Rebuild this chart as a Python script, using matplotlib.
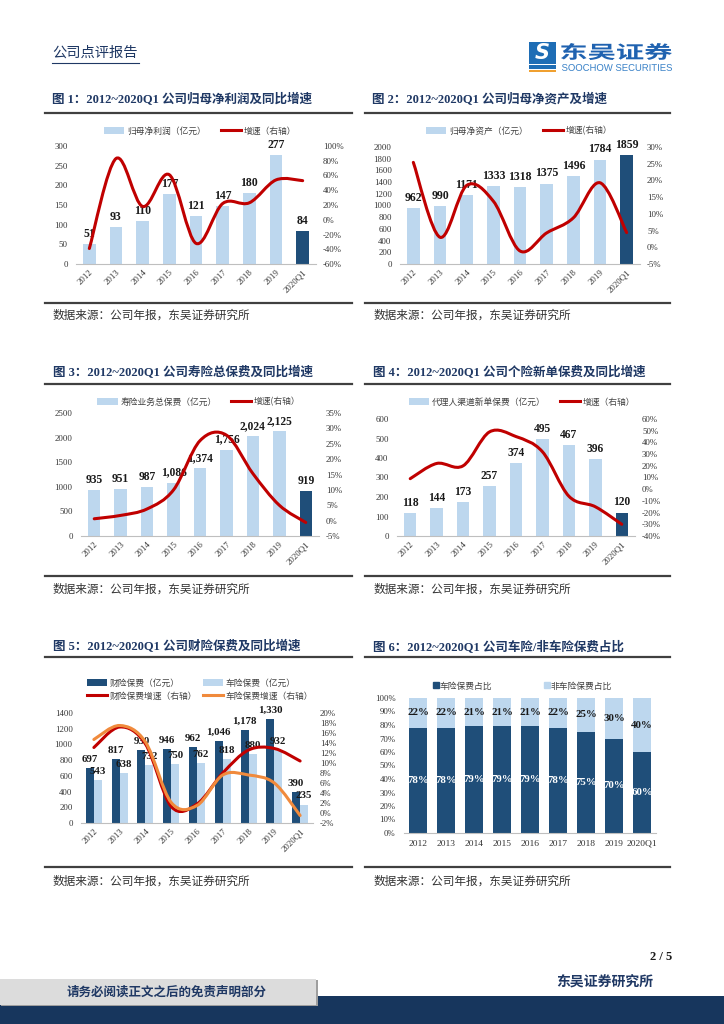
import numpy as np
import matplotlib
matplotlib.use("Agg")
import matplotlib.pyplot as plt
from matplotlib.path import Path
from matplotlib.patches import PathPatch, Rectangle, Patch
from matplotlib.lines import Line2D
from matplotlib.textpath import TextPath
from matplotlib.font_manager import FontProperties
from matplotlib.transforms import Affine2D
from matplotlib.ticker import FuncFormatter

plt.rcParams['font.family'] = ['Liberation Serif', 'Noto Sans CJK SC']
plt.rcParams['axes.unicode_minus'] = False

# ---------------- datos ----------------
years = ['2012', '2013', '2014', '2015', '2016', '2017', '2018', '2019', '2020Q1']

# 图1 归母净利润
profit = [51, 93, 110, 177, 121, 147, 180, 277, 84]
profit_g = [-39, 83, 18, 61, -32, 22, 23, 54, 53]
# 图2 归母净资产
equity = [962, 990, 1171, 1333, 1318, 1375, 1496, 1784, 1859]
equity_g = [25.4, 3.0, 18.5, 13.8, -1.1, 4.3, 8.8, 19.3, 4.4]
# 图3 寿险总保费
life = [935, 951, 987, 1086, 1374, 1756, 2024, 2125, 919]
life_g = [0.6, 1.7, 3.8, 10.0, 26.0, 27.8, 15.3, 5.0, -0.6]
# 图4 个险新单保费
agent = [118, 144, 173, 257, 374, 495, 467, 396, 120]
agent_g = [9, 22, 20, 49, 45, 32, -6, -15, -30]
# 图5 财险/车险保费
pc = [697, 817, 930, 946, 962, 1046, 1178, 1330, 390]
auto = [543, 638, 732, 750, 762, 818, 880, 932, 235]
pc_g = [13.1, 17.2, 13.8, 1.3, 1.8, 8.0, 12.6, 12.9, 10.4]
auto_g = [14.7, 17.5, 14.2, 2.1, 1.5, 7.6, 7.6, 6.0, -0.5]
# 图6 车险/非车险占比
auto_pct = [78, 78, 79, 79, 79, 78, 75, 70, 60]
nonauto_pct = [22, 22, 21, 21, 21, 22, 25, 30, 40]

LIGHT = '#BDD7EE'
DARK = '#1F4E79'
RED = '#C00000'
ORANGE = '#F08A3C'
NAVY = '#1F3864'
CJK = ['Noto Sans CJK SC', 'DejaVu Sans']
SERIF = ['Liberation Serif', 'Noto Sans CJK SC']

W, H = 724, 1024
fig = plt.figure(figsize=(W / 100, H / 100), dpi=100)


def fx(px):
    return px / W


def fy(py):
    return 1 - py / H


def rect(x0, x1, y0, y1):
    return [x0 / W, 1 - y1 / H, (x1 - x0) / W, (y1 - y0) / H]


# curva suavizada tipo Excel (bezier)
def smooth_path(x, y):
    pts = np.column_stack([x, y]).astype(float)
    n = len(pts)
    verts = [pts[0]]
    codes = [Path.MOVETO]
    for i in range(n - 1):
        p0 = pts[max(i - 1, 0)]
        p1 = pts[i]
        p2 = pts[i + 1]
        p3 = pts[min(i + 2, n - 1)]
        verts += [p1 + (p2 - p0) / 6, p2 - (p3 - p1) / 6, p2]
        codes += [Path.CURVE4] * 3
    return Path(verts, codes)


def add_curve(ax, y, color):
    x = np.arange(len(y))
    ax.add_patch(PathPatch(smooth_path(x, y), fill=False, edgecolor=color,
                           lw=2.2, capstyle='round', joinstyle='round'))


def pct_fmt(v, pos):
    return f"{v:.0f}%"


def style_axes(ax, ax2, ylim, ystep, rlim, rstep, rot=45):
    ax.set_xlim(-0.5, len(years) - 0.5)
    ax.set_ylim(*ylim)
    ax.set_yticks(np.arange(ylim[0], ylim[1] + ystep / 2, ystep))
    ax.set_xticks(range(len(years)))
    if rot:
        ax.set_xticklabels(years, rotation=rot, ha='right', rotation_mode='anchor')
    else:
        ax.set_xticklabels(years)
    for s in ['top', 'right', 'left']:
        ax.spines[s].set_visible(False)
    ax.spines['bottom'].set_color('#BFBFBF')
    ax.spines['bottom'].set_linewidth(0.8)
    ax.tick_params(length=0, labelsize=6.3, colors='#333333', pad=6)
    ax.tick_params(axis='x', pad=3)
    if ax2 is not None:
        ax2.set_ylim(*rlim)
        ax2.set_yticks(np.arange(rlim[0], rlim[1] + rstep / 2, rstep))
        ax2.yaxis.set_major_formatter(FuncFormatter(pct_fmt))
        for s in ax2.spines.values():
            s.set_visible(False)
        ax2.tick_params(length=0, labelsize=6.3, colors='#333333', pad=5)


def legend(handles, labels, cx, cy, ncol=2, **kw):
    opts = dict(handlelength=2.3, handleheight=0.8, handletextpad=0.3,
                columnspacing=1.7, borderpad=0)
    opts.update(kw)
    fig.legend(handles, labels, loc='center', bbox_to_anchor=(fx(cx), fy(cy)),
               bbox_transform=fig.transFigure, ncol=ncol, frameon=False,
               prop=FontProperties(family=CJK, size=6.3), labelcolor='#404040', **opts)


def bar_line_chart(r, vals, growth, ylim, ystep, rlim, rstep, comma=False, lfs=8.0):
    ax = fig.add_axes(rect(*r))
    x = np.arange(len(years))
    colors = [LIGHT] * (len(years) - 1) + [DARK]
    ax.bar(x, vals, width=0.47, color=colors)
    for i, v in enumerate(vals):
        txt = f"{v:,}" if comma else f"{v}"
        ax.annotate(txt, (i, v), xytext=(0, 3), textcoords='offset points',
                    ha='center', va='bottom', fontsize=lfs, fontweight='bold',
                    color='#1a1a1a', family=SERIF)
    ax2 = ax.twinx()
    add_curve(ax2, growth, RED)
    style_axes(ax, ax2, ylim, ystep, rlim, rstep)
    return ax, ax2


def title(x, y, s):
    fig.text(fx(x), fy(y), s, ha='left', va='center', fontsize=9, fontweight='bold',
             color=NAVY, family=SERIF)


def hline(x0, x1, y, lw=1.6, color='#404040'):
    fig.add_artist(Line2D([fx(x0), fx(x1)], [fy(y), fy(y)], color=color, lw=lw))


def source(x, y):
    fig.text(fx(x), fy(y), '数据来源：公司年报，东吴证券研究所', ha='left', va='center',
             fontsize=8.4, color='#333333', family=CJK)


def stretched(s, x0, y0, w, h, color, weight='bold', family=CJK):
    tp = TextPath((0, 0), s, size=20, prop=FontProperties(family=family, weight=weight))
    bb = tp.get_extents()
    tr = (Affine2D().translate(-bb.x0, -bb.y0)
          .scale(w / bb.width, h / bb.height)
          .translate(x0, H - y0 - h)
          .scale(1 / W, 1 / H))
    fig.add_artist(PathPatch(tr.transform_path(tp), facecolor=color, lw=0,
                             transform=fig.transFigure))


# ---------------- cabecera ----------------
fig.text(fx(52), fy(53), '公司点评报告', ha='left', va='center', fontsize=10.3,
         color=NAVY, family=CJK)
hline(52, 139, 63, lw=0.8, color=NAVY)
fig.add_artist(Rectangle((fx(529), fy(64)), fx(27), 22 / H, facecolor='#1E6DB5',
                         transform=fig.transFigure))
fig.text(fx(542.5), fy(53), 'S', ha='center', va='center', fontsize=15, color='white',
         fontweight='bold', style='italic', family=['DejaVu Sans'])
fig.add_artist(Rectangle((fx(529), fy(69)), fx(27), 4 / H, facecolor='#1E6DB5',
                         transform=fig.transFigure))
fig.add_artist(Rectangle((fx(529), fy(72)), fx(27), 2 / H, facecolor='#F0A030',
                         transform=fig.transFigure))
stretched('东吴证券', 561, 43, 111, 17, '#1F62B0')
stretched('SOOCHOW SECURITIES', 562, 64, 110, 7, '#3A82C8', weight='normal',
          family=['Liberation Sans'])

# ---------------- 图1 ----------------
title(52, 100, '图 1：2012~2020Q1 公司归母净利润及同比增速')
hline(45, 352, 112.5)
bar_line_chart((76, 316, 146, 264), profit, profit_g, (0, 300), 50, (-60, 100), 20,
               lfs=8.5)
legend([Patch(facecolor=LIGHT), Line2D([], [], color=RED, lw=2.2)],
       ['归母净利润（亿元）', '增速（右轴）'], 200, 131)
hline(45, 352, 302.5)
source(53, 315)

# ---------------- 图2 ----------------
title(372, 100, '图 2：2012~2020Q1 公司归母净资产及增速')
hline(365, 670, 112.5)
bar_line_chart((400, 640, 147, 264), equity, equity_g, (0, 2000), 200, (-5, 30), 5,
               lfs=8.5)
legend([Patch(facecolor=LIGHT), Line2D([], [], color=RED, lw=2.2)],
       ['归母净资产（亿元）', '增速(右轴）'], 519, 131)
hline(365, 670, 302.5)
source(373, 315)

# ---------------- 图3 ----------------
title(53, 373, '图 3：2012~2020Q1 公司寿险总保费及同比增速')
hline(45, 352, 384)
bar_line_chart((81, 319, 413, 536), life, life_g, (0, 2500), 500, (-5, 35), 5,
               comma=True, lfs=8.3)
legend([Patch(facecolor=LIGHT), Line2D([], [], color=RED, lw=2.2)],
       ['寿险业务总保费（亿元）', '增速(右轴）'], 199, 402)
hline(45, 352, 576)
source(53, 589)

# ---------------- 图4 ----------------
title(373, 373, '图 4：2012~2020Q1 公司个险新单保费及同比增速')
hline(365, 670, 384)
bar_line_chart((397, 635, 419, 536), agent, agent_g, (0, 600), 100, (-40, 60), 10,
               lfs=8.3)
legend([Patch(facecolor=LIGHT), Line2D([], [], color=RED, lw=2.2)],
       ['代理人渠道新单保费（亿元）', '增速（右轴）'], 522, 402)
hline(365, 670, 576)
source(373, 589)

# ---------------- 图5 ----------------
title(53, 647, '图 5：2012~2020Q1 公司财险保费及同比增速')
hline(45, 352, 657)
ax5 = fig.add_axes(rect(81, 313, 713, 823))
x = np.arange(len(years))
bw = 0.31
ax5.bar(x - bw / 2, pc, width=bw, color=DARK)
ax5.bar(x + bw / 2, auto, width=bw, color=LIGHT)
for i in range(len(years)):
    ax5.annotate(f"{pc[i]:,}", (x[i] - bw / 2, pc[i]), xytext=(0, 3),
                 textcoords='offset points', ha='center', va='bottom', fontsize=7.8,
                 fontweight='bold', color='#1a1a1a')
    ax5.annotate(f"{auto[i]:,}", (x[i] + bw / 2, auto[i]), xytext=(0, 3),
                 textcoords='offset points', ha='center', va='bottom', fontsize=7.8,
                 fontweight='bold', color='#1a1a1a')
ax5b = ax5.twinx()
add_curve(ax5b, pc_g, RED)
add_curve(ax5b, auto_g, ORANGE)
style_axes(ax5, ax5b, (0, 1400), 200, (-2, 20), 2)
legend([Patch(facecolor=DARK), Line2D([], [], color=RED, lw=2.2),
        Patch(facecolor=LIGHT), Line2D([], [], color=ORANGE, lw=2.2)],
       ['财险保费（亿元）', '财险保费增速（右轴）', '车险保费（亿元）', '车险保费增速（右轴）'],
       200, 689.5, labelspacing=0.45, columnspacing=0.6)
hline(45, 352, 867)
source(53, 881)

# ---------------- 图6 ----------------
title(373, 647, '图 6：2012~2020Q1 公司车险/非车险保费占比')
hline(365, 670, 657)
ax6 = fig.add_axes(rect(404, 656, 698, 833))
ax6.bar(x, auto_pct, width=0.62, color=DARK)
ax6.bar(x, nonauto_pct, bottom=auto_pct, width=0.62, color=LIGHT)
for i in range(len(years)):
    ax6.text(x[i], auto_pct[i] / 2, f"{auto_pct[i]}%", ha='center', va='center',
             fontsize=7.8, fontweight='bold', color='white')
    ax6.text(x[i], auto_pct[i] + nonauto_pct[i] / 2, f"{nonauto_pct[i]}%", ha='center',
             va='center', fontsize=7.8, fontweight='bold', color='#1a1a1a')
style_axes(ax6, None, (0, 100), 10, None, None, rot=0)
ax6.yaxis.set_major_formatter(FuncFormatter(pct_fmt))
ax6.tick_params(axis='x', labelsize=6.8, pad=5)
legend([Line2D([], [], ls='none', marker='s', ms=4, color=DARK),
        Line2D([], [], ls='none', marker='s', ms=4, color=LIGHT)],
       ['车险保费占比', '非车险保费占比'], 523, 686, handlelength=0.5,
       handletextpad=0.2, columnspacing=6.0)
hline(365, 670, 867)
source(373, 881)

# ---------------- pie de pagina ----------------
fig.text(fx(672), fy(957), '2 / 5', ha='right', va='center', fontsize=9,
         fontweight='bold', color='#1a1a1a')
fig.text(fx(653), fy(983), '东吴证券研究所', ha='right', va='center', fontsize=10,
         fontweight='bold', color=NAVY, family=CJK)
fig.add_artist(Rectangle((fx(316), fy(1024)), fx(408), 28 / H, facecolor='#17365D',
                         lw=0, transform=fig.transFigure))
fig.add_artist(Rectangle((0, fy(1024)), 1, 19 / H, facecolor='#17365D', lw=0,
                         transform=fig.transFigure))
fig.add_artist(Rectangle((fx(1), fy(1006)), fx(317), 26 / H, facecolor='#9E9E9E', lw=0,
                         transform=fig.transFigure))
fig.add_artist(Rectangle((0, fy(1005)), fx(316), 26 / H, facecolor='#DCDCDC', lw=0,
                         transform=fig.transFigure))
fig.text(fx(167), fy(992), '请务必阅读正文之后的免责声明部分', ha='center', va='center',
         fontsize=9, fontweight='bold', color=NAVY, family=CJK)

fig.savefig('out.png', dpi=100)
